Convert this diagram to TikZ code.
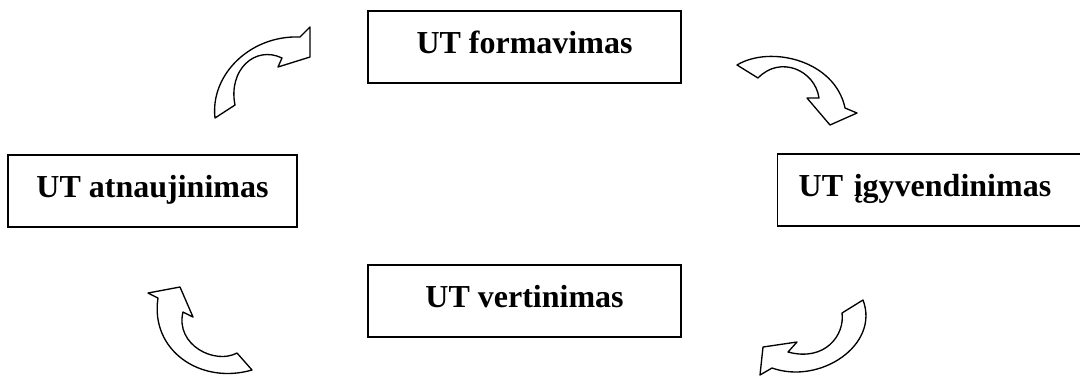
\documentclass[tikz,border=0pt]{standalone}
\usepackage{fontspec}
\setmainfont{Liberation Serif}
\begin{document}
\begin{tikzpicture}[x = 0.75pt, y = -0.75pt,
        stage/.style = {draw, line width = 1.1pt, font = \bfseries\fontsize{24}{28}\selectfont,
            inner ysep = 0pt, text height = 31.5pt, text depth = 22.5pt},
        turn/.style = {draw, line width = 1pt, fill = white, line join = round}]
        \path [use as bounding box, clip] (0, 0) rectangle (1080, 376);
        \node [stage, anchor = base, minimum width = 234.75pt] (form) at (524.5, 53) {UT formavimas};
        \node [stage, anchor = base, minimum width = 216.75pt] (atn) at (152.5, 197) {UT atnaujinimas};
        \node [stage, anchor = base west, inner xsep = 15.75pt, text width = 210.75pt, align = left] (igy) at (777, 196) {UT įgyvendinimas};
        \node [stage, anchor = base, minimum width = 234.75pt] (vert) at (524.5, 307) {UT vertinimas};
        % curved arrows
        \draw [turn] (215, 118) .. controls (210, 75) and (250, 35) .. (300, 37) -- (310, 27) -- (310, 57)
            -- (278, 67) -- (282, 58) .. controls (255, 45) and (228, 70) .. (235, 105) -- cycle;
        \draw [turn] (737, 65) .. controls (770, 45) and (835, 60) .. (845, 108) -- (857, 113) -- (830, 125)
            -- (807, 98) -- (819, 98) .. controls (815, 70) and (780, 55) .. (758, 78) -- cycle;
        \draw [turn] (863, 300) .. controls (880, 345) and (820, 385) .. (772, 368) -- (760, 375) -- (763, 347)
            -- (797, 342) -- (788, 352) .. controls (825, 362) and (845, 335) .. (842, 313) -- cycle;
        \draw [turn] (148, 293) -- (180, 287) -- (193, 317) -- (183, 312) .. controls (175, 345) and (215, 365) .. (237, 353)
            -- (252, 370) .. controls (200, 385) and (150, 350) .. (158, 298) -- cycle;
\end{tikzpicture}
\end{document}
